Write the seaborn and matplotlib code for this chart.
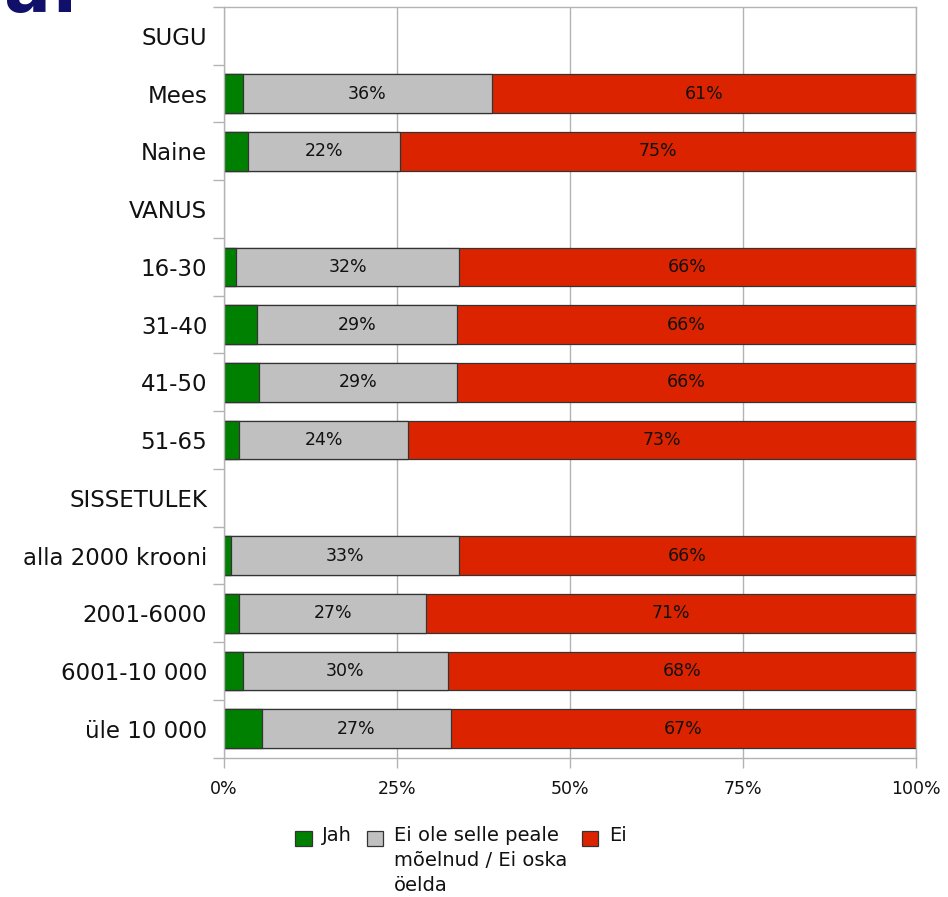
import numpy as np
import pandas as pd
import matplotlib
matplotlib.use("Agg")
import matplotlib.pyplot as plt
from matplotlib.patches import Patch
from matplotlib.ticker import FixedLocator
import seaborn as sns

# ---- data ----
categories = ["SUGU", "Mees", "Naine", "VANUS", "16-30", "31-40", "41-50", "51-65",
              "SISSETULEK", "alla 2000 krooni", "2001-6000", "6001-10 000", "üle 10 000"]
jah = [np.nan, 2.7, 3.4, np.nan, 1.8, 4.8, 5.0, 2.2, np.nan, 1.0, 2.2, 2.7, 5.5]
ei_ole = [np.nan, 36.0, 22.0, np.nan, 32.2, 28.8, 28.7, 24.4, np.nan, 32.9, 27.0, 29.6, 27.3]
ei = [np.nan, 61.3, 74.6, np.nan, 66.0, 66.4, 66.3, 73.4, np.nan, 66.1, 70.8, 67.7, 67.2]
series_names = ["Jah", "Ei ole selle peale\nmõelnud / Ei oska\nöelda", "Ei"]
xticks = [0, 25, 50, 75, 100]
xtick_labels = ["0%", "25%", "50%", "75%", "100%"]

GREEN, GRAY, RED = "#008000", "#c0c0c0", "#dc2300"
EDGE = "#333333"
GRID = "#b3b3b3"

df = pd.DataFrame({"cat": categories, "jah": jah, "ei_ole": ei_ole, "ei": ei})
df["c1"] = df["jah"]
df["c2"] = df["jah"] + df["ei_ole"]
df["c3"] = df["c2"] + df["ei"]

sns.set_theme(style="white")
plt.rcParams["font.family"] = ["DejaVu Sans"]

fig = plt.figure(figsize=(9.48, 8.97), dpi=100)
ax = fig.add_axes([224 / 948, 1 - 757.7 / 897, 692 / 948, (757.7 - 7) / 897])

for col, colr in [("c3", RED), ("c2", GRAY), ("c1", GREEN)]:
    sns.barplot(data=df, x=col, y="cat", order=categories, color=colr, saturation=1,
                width=0.67, edgecolor=EDGE, linewidth=0.9, errorbar=None,
                orient="h", ax=ax)

# segment labels
for i, row in df.iterrows():
    if np.isnan(row["jah"]):
        continue
    ax.text(row["jah"] + row["ei_ole"] / 2, i, f"{row['ei_ole']:.0f}%",
            ha="center", va="center", fontsize=12.5, color="#111111")
    ax.text(row["c2"] + row["ei"] / 2, i, f"{row['ei']:.0f}%",
            ha="center", va="center", fontsize=12.5, color="#111111")

ax.set_xlim(0, 100)
ax.set_ylim(len(categories) - 0.5, -0.5)
ax.set_xlabel("")
ax.set_ylabel("")
ax.set_xticks(xticks)
ax.set_xticklabels(xtick_labels, fontsize=12.5, color="#111111")
ax.tick_params(axis="x", direction="out", length=7.5, width=1, color=GRID, pad=8.5,
               bottom=True)
ax.set_yticks(range(len(categories)))
ax.set_yticklabels(categories, fontsize=16.5, color="#111111")
ax.tick_params(axis="y", which="major", length=0, pad=12)
ax.yaxis.set_minor_locator(FixedLocator(np.arange(-0.5, len(categories), 1.0)))
ax.tick_params(axis="y", which="minor", direction="out", length=8, width=1,
               color=GRID, left=True)
ax.grid(axis="x", color=GRID, linewidth=1)
ax.set_axisbelow(True)
for s in ax.spines.values():
    s.set_visible(True)
    s.set_color(GRID)
    s.set_linewidth(1)

# legend
handles = [Patch(facecolor=c, edgecolor=EDGE, linewidth=0.9) for c in (GREEN, GRAY, RED)]
labels = ["Jah\n \n ", series_names[1], "Ei\n \n "]
leg = fig.legend(handles, labels, loc="upper left",
                 bbox_to_anchor=(295 / 948, 1 - 826 / 897), ncol=3, frameon=False,
                 fontsize=14, handlelength=0.85, handleheight=0.85, handletextpad=0.55,
                 columnspacing=0.75, borderpad=0, borderaxespad=0, labelcolor="#111111")
for t in leg.get_texts():
    t.set_linespacing(1.4)
fig.canvas.draw()
bb = leg.get_texts()[1].get_window_extent()
shift_pts = (bb.height / 3) * 72 / fig.dpi
for h in leg.legend_handles:
    h.set_y(h.get_y() + shift_pts)

# title fragment at top-left (clipped by figure edge)
fig.text(0.004, 1 - 12 / 897, "a:", fontsize=50, fontweight="bold", color="#10106b",
         va="baseline", ha="left")

fig.savefig("out.png", dpi=100)
